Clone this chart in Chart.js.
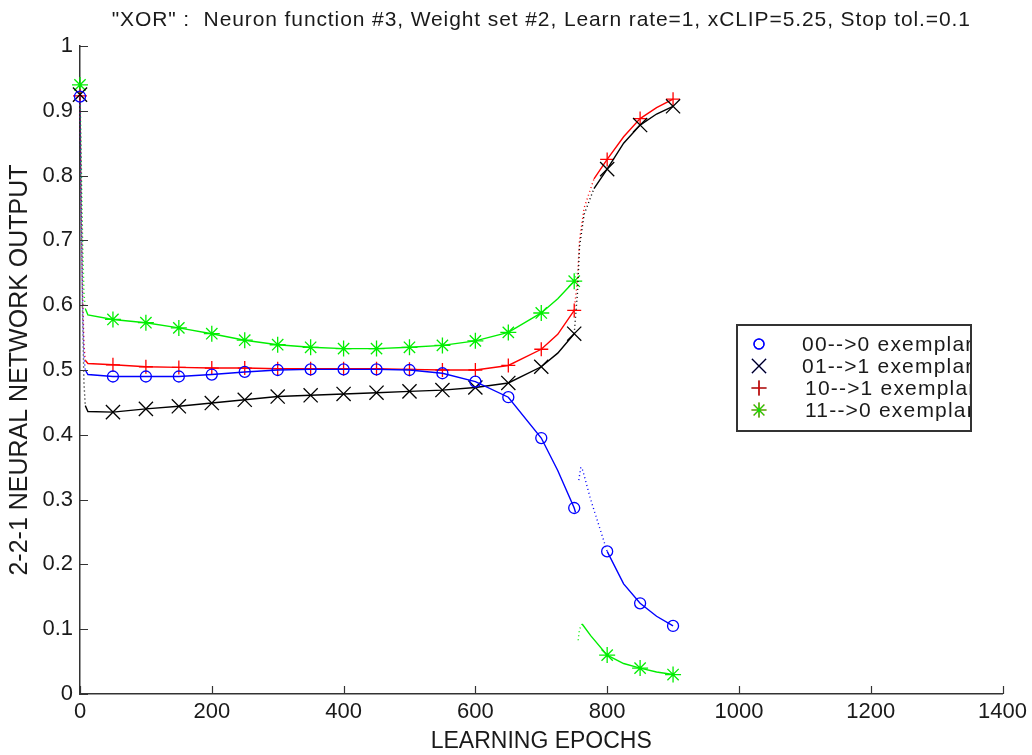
<!DOCTYPE html>
<html>
<head>
<meta charset="utf-8">
<script src="https://cdn.jsdelivr.net/npm/chart.js@4/dist/chart.umd.min.js"></script>
<style>
body{margin:0;background:#fff}
</style>
</head>
<body>
<canvas id="xorChart" width="1032" height="755"></canvas>
<script>
// epochs for the first training phase (same for every exemplar)
const epochsMain = [0, 2, 4, 6, 8, 12, 50, 100, 150, 200, 250, 300, 350, 400, 450, 500, 550, 600, 650, 700, 725, 750]

const out00Main = [0.922, 0.75, 0.6, 0.52, 0.5, 0.493, 0.49, 0.49, 0.49, 0.493, 0.497, 0.5, 0.501, 0.501, 0.501, 0.5, 0.495, 0.482, 0.458, 0.395, 0.345, 0.287]
const out01Main = [0.925, 0.73, 0.58, 0.48, 0.445, 0.436, 0.435, 0.44, 0.444, 0.449, 0.454, 0.459, 0.461, 0.463, 0.465, 0.467, 0.469, 0.473, 0.48, 0.505, 0.526, 0.556]
const out10Main = [0.923, 0.76, 0.62, 0.54, 0.515, 0.51, 0.508, 0.505, 0.504, 0.503, 0.503, 0.502, 0.502, 0.502, 0.502, 0.501, 0.5, 0.5, 0.507, 0.532, 0.555, 0.592]
const out11Main = [0.94, 0.82, 0.7, 0.62, 0.595, 0.585, 0.578, 0.573, 0.565, 0.556, 0.546, 0.539, 0.535, 0.533, 0.533, 0.535, 0.538, 0.545, 0.558, 0.588, 0.61, 0.637]

// after the jump near epoch 755 (null = break in the curve)
const epochs00Late = [752, 754, 757, 760, 763, 775, 800, 825, 850, 875, 900]
const out00Late    = [0.28, null, 0.33, 0.35, 0.345, 0.3, 0.22, 0.17, 0.14, 0.12, 0.105]
const epochs01Late = [755, 758, 765, 780, 800, 825, 850, 875, 900]
const out01Late    = [0.62, 0.69, 0.74, 0.78, 0.81, 0.85, 0.878, 0.895, 0.907]
const epochs10Late = [755, 758, 765, 780, 800, 825, 850, 875, 900]
const out10Late    = [0.64, 0.7, 0.75, 0.795, 0.825, 0.86, 0.888, 0.905, 0.918]
const epochs11Late = [753, 754, 756, 758, 762, 775, 800, 825, 850, 875, 900]
const out11Late    = [0.65, null, 0.083, 0.1, 0.108, 0.09, 0.06, 0.047, 0.04, 0.034, 0.03]

const seriesLabels = ["00-->0 exemplar", "01-->1 exemplar", "10-->1 exemplar", "11-->0 exemplar"]
const xTicks = [0, 200, 400, 600, 800, 1000, 1200, 1400]
const chartTitle = "\"XOR\" :  Neuron function #3, Weight set #2, Learn rate=1, xCLIP=5.25, Stop tol.=0.1"

const FONT = "'Liberation Sans', Arial, sans-serif"
const TXT = "#1a1a1a"

function pts(xs, ys){
    return xs.map((x, i) => ({x: x, y: ys[i]}))
}

function makeSet(label, color, style, radius, data, dotted){
    return {
        label: label,
        data: data,
        borderColor: color,
        backgroundColor: color,
        borderWidth: 1.4,
        pointStyle: style,
        pointBorderColor: color,
        pointBackgroundColor: "rgba(0,0,0,0)",
        pointBorderWidth: 1.3,
        pointRadius: (c) => (c.raw && c.raw.x % 50 === 0 ? radius : 0),
        pointHoverRadius: 0,
        tension: 0,
        spanGaps: false,
        clip: false,
        segment: {
            borderDash: (c) => {
                var a = c.p0.parsed.x
                return dotted.some((r) => a >= r[0] && a < r[1]) ? [1, 3] : undefined
            }
        }
    }
}

const datasets = [
    makeSet(seriesLabels[0], "#0000ff", "circle", 5.5, pts(epochsMain.concat(epochs00Late), out00Main.concat(out00Late)), [[0, 8], [754, 800]]),
    makeSet(seriesLabels[1], "#000000", "crossRot", 10, pts(epochsMain.concat(epochs01Late), out01Main.concat(out01Late)), [[0, 8], [750, 780]]),
    makeSet(seriesLabels[2], "#ff0000", "cross", 7, pts(epochsMain.concat(epochs10Late), out10Main.concat(out10Late)), [[0, 8], [750, 780]]),
    makeSet(seriesLabels[3], "#00ee00", "star", 8, pts(epochsMain.concat(epochs11Late), out11Main.concat(out11Late)), [[0, 8], [750, 762]])
]

// ticks pointing into the plot, matlab style
const inTicks = {
    id: "inTicks",
    afterDraw(chart){
        var ctx = chart.ctx, xs = chart.scales.x, ys = chart.scales.y
        ctx.save()
        ctx.strokeStyle = "#333"
        ctx.lineWidth = 1.2
        ctx.beginPath()
        xs.ticks.forEach((t) => {
            var px = Math.round(xs.getPixelForValue(t.value)) + 0.5
            ctx.moveTo(px, ys.bottom)
            ctx.lineTo(px, ys.bottom - 8)
        })
        ys.ticks.forEach((t) => {
            var py = Math.round(ys.getPixelForValue(t.value)) + 0.5
            ctx.moveTo(xs.left, py)
            ctx.lineTo(xs.left + 8, py)
        })
        ctx.stroke()
        ctx.restore()
    }
}

// title centred over the axes, like matlab does
const axesTitle = {
    id: "axesTitle",
    afterDraw(chart){
        var ctx = chart.ctx, a = chart.chartArea
        ctx.save()
        ctx.fillStyle = TXT
        ctx.font = "21px " + FONT
        ctx.letterSpacing = "0.9px"
        ctx.textAlign = "center"
        ctx.textBaseline = "middle"
        ctx.fillText(chartTitle, (a.left + a.right) / 2, 20)
        ctx.restore()
    }
}

const boxLegend = {
    id: "boxLegend",
    afterDraw(chart){
        var ctx = chart.ctx
        var L = 737, T = 325, R = 971, B = 431
        ctx.save()
        ctx.fillStyle = "#fff"
        ctx.fillRect(L, T, R - L, B - T)
        ctx.beginPath()
        ctx.rect(L, T, R - L, B - T)
        ctx.clip()
        chart.data.datasets.forEach((ds, i) => {
            var y = 344 + i * 22
            Chart.helpers.drawPoint(ctx, {
                pointStyle: ds.pointStyle,
                radius: ds.pointStyle === "circle" ? 5 : (ds.pointStyle === "crossRot" ? 10 : 7.5),
                rotation: 0,
                borderWidth: 1.2
            }, 759, y)
            ctx.strokeStyle = ds.borderColor
            ctx.lineWidth = 1.2
            ctx.stroke()
            ctx.fillStyle = TXT
            ctx.font = "21px " + FONT
            ctx.letterSpacing = "1.2px"
            ctx.textBaseline = "middle"
            ctx.fillText(ds.label, i === 2 || i === 3 ? 805 : 802, y + 1)
            ctx.letterSpacing = "0px"
        })
        ctx.restore()
        ctx.save()
        ctx.strokeStyle = "#333"
        ctx.lineWidth = 2
        ctx.strokeRect(L, T, R - L, B - T)
        ctx.restore()
    }
}

new Chart(document.getElementById("xorChart"), {
    type: "line",
    data: {datasets: datasets},
    plugins: [inTicks, axesTitle, boxLegend],
    options: {
        responsive: false,
        animation: false,
        layout: {padding: {left: 0, right: 29, top: 46, bottom: 0}},
        plugins: {
            legend: {display: false},
            tooltip: {enabled: false},
            title: {display: false}
        },
        scales: {
            x: {
                type: "linear",
                min: 0,
                max: 1400,
                afterBuildTicks: (s) => { s.ticks = xTicks.map((v) => ({value: v})) },
                afterFit: (s) => { s.height = 61 },
                grid: {display: false, drawTicks: false},
                border: {display: true, color: "#333", width: 1.5},
                ticks: {color: TXT, padding: 5, maxRotation: 0, font: {family: FONT, size: 22}, callback: (v) => String(v)},
                title: {display: true, text: "LEARNING EPOCHS", color: TXT, font: {family: FONT, size: 23}, padding: {top: 0, bottom: 0}}
            },
            y: {
                min: 0,
                max: 1,
                ticks: {stepSize: 0.1, color: TXT, padding: 7, font: {family: FONT, size: 22}, callback: (v) => String(Math.round(v * 10) / 10)},
                afterFit: (s) => { s.width = 80 },
                grid: {display: false, drawTicks: false},
                border: {display: true, color: "#333", width: 1.5},
                title: {display: true, text: "2-2-1 NEURAL NETWORK OUTPUT", color: TXT, font: {family: FONT, size: 25}, padding: {top: 5, bottom: 0}}
            }
        }
    }
})
</script>
</body>
</html>
